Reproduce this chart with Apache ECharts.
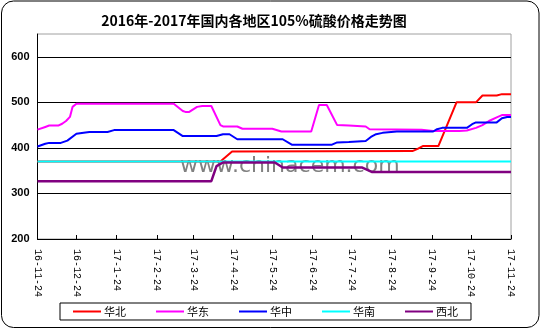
<!DOCTYPE html>
<html>
<head>
<meta charset="utf-8">
<script src="https://cdn.jsdelivr.net/npm/echarts@6/dist/echarts.min.js"></script>
<style>
html,body{margin:0;padding:0;background:#fff;}
#c{width:541px;height:329px;}
</style>
</head>
<body>
<div id="c"></div>
<script>
// Daily category axis from 2016-11-24 to 2017-11-24
const startDate = '2016-11-24';
const endDate = '2017-11-24';
const categories = [];
(function () {
  let t = Date.parse(startDate + 'T00:00:00Z');
  const e = Date.parse(endDate + 'T00:00:00Z');
  while (t <= e) {
    categories.push(new Date(t).toISOString().slice(0, 10));
    t += 86400000;
  }
})();

const seriesNames = ['华北', '华东', '华中', '华南', '西北'];

const huabei = [['2016-11-24',370],['2017-04-14',370],['2017-04-23',392],['2017-09-09',393],['2017-09-13',398],['2017-09-17',404],['2017-09-29',404],['2017-10-13',500],['2017-10-28',500],['2017-11-02',515],['2017-11-13',515],['2017-11-17',518],['2017-11-24',518]];

const huadong = [['2016-11-24',440],['2016-11-30',446],['2016-12-03',449],['2016-12-10',449],['2016-12-13',453],['2016-12-16',459],['2016-12-19',468],['2016-12-21',490],['2016-12-24',497],['2017-03-09',497],['2017-03-16',481],['2017-03-18',479],['2017-03-21',479],['2017-03-27',490],['2017-03-31',492],['2017-04-07',492],['2017-04-14',450],['2017-04-16',447],['2017-04-27',447],['2017-05-01',442],['2017-05-24',442],['2017-05-31',436],['2017-06-23',436],['2017-06-29',494],['2017-07-05',494],['2017-07-13',450],['2017-07-22',449],['2017-08-04',447],['2017-08-07',441],['2017-09-16',440],['2017-09-25',437],['2017-10-15',437],['2017-10-21',438],['2017-10-28',444],['2017-11-02',450],['2017-11-07',459],['2017-11-13',467],['2017-11-17',472],['2017-11-24',472]];

const huazhong = [['2016-11-24',403],['2016-11-30',409],['2016-12-03',411],['2016-12-12',411],['2016-12-17',416],['2016-12-24',431],['2016-12-31',434],['2017-01-03',435],['2017-01-17',435],['2017-01-22',439],['2017-03-09',439],['2017-03-16',426],['2017-04-11',426],['2017-04-16',430],['2017-04-21',430],['2017-04-27',419],['2017-06-01',419],['2017-06-08',407],['2017-07-09',407],['2017-07-13',412],['2017-07-22',413],['2017-08-04',415],['2017-08-08',424],['2017-08-12',430],['2017-08-17',433],['2017-08-28',436],['2017-09-25',436],['2017-09-28',441],['2017-10-02',444],['2017-10-21',444],['2017-10-25',452],['2017-10-28',456],['2017-11-13',456],['2017-11-17',465],['2017-11-21',468],['2017-11-24',468]];

const huanan = [['2016-11-24',370],['2017-11-24',370]];

const xibei = [['2016-11-24',327],['2017-04-07',327],['2017-04-11',360],['2017-04-16',368],['2017-05-26',368],['2017-06-01',357],['2017-08-01',357],['2017-08-09',347],['2017-11-24',347]];

const seriesData = [huabei, huadong, huazhong, huanan, xibei];
const colors = ['#ff0000', '#ff00ff', '#0000ff', '#00ffff', '#800080'];
const widths = [2, 2, 2, 2, 2.5];

const yMin = 200, yMax = 650, yInterval = 100;

const isTickDay = (idx, val) => val.slice(8) === '24';
const fmtDate = (v) => v.slice(2, 4) + '-' + (+v.slice(5, 7)) + '-' + v.slice(8);

const chart = echarts.init(document.getElementById('c'), null, {renderer: 'canvas'});
chart.setOption({
  animation: false,
  backgroundColor: '#fff',
  title: {
    text: '2016年-2017年国内各地区105%硫酸价格走势图',
    left: 254, top: 14, textAlign: 'center', padding: 0,
    textStyle: {fontFamily: '"Noto Sans CJK SC"', fontWeight: 'bold', fontSize: 14, color: '#000'}
  },
  graphic: [
    {type: 'rect', z: 100, silent: true,
     shape: {x: 1.5, y: 1, width: 537.5, height: 326.5, r: 12},
     style: {fill: null, stroke: '#000', lineWidth: 1}},
    {type: 'text', z: 0, silent: true, x: 180, y: 166,
     style: {text: 'www.chinacem.com', textVerticalAlign: 'middle', textAlign: 'left',
             font: '22px "DejaVu Sans"', fill: 'rgba(115,115,115,0.9)'}}
  ],
  legend: {
    data: seriesNames,
    left: 60, top: 303,
    padding: [3, 13, 3, 13],
    itemGap: 30, itemWidth: 28, itemHeight: 2, icon: 'rect',
    borderColor: '#000', borderWidth: 1,
    textStyle: {fontFamily: '"Noto Sans CJK SC"', fontSize: 11, color: '#000', padding: [0, 0, 0, -2]}
  },
  grid: {
    left: 37.5, right: 30, top: 34, bottom: 90,
    show: true, borderColor: '#a0a0a0', borderWidth: 1
  },
  xAxis: {
    type: 'category', data: categories, boundaryGap: false,
    axisLine: {lineStyle: {color: '#000', width: 1}},
    axisTick: {inside: true, length: 4, interval: isTickDay, lineStyle: {color: '#000'}},
    axisLabel: {interval: isTickDay, rotate: -90, margin: 10, formatter: fmtDate,
                fontFamily: '"Liberation Mono"', fontSize: 10, color: '#000'},
    splitLine: {show: false}
  },
  yAxis: {
    type: 'value', min: yMin, max: yMax, interval: yInterval,
    axisLine: {show: true, lineStyle: {color: '#000', width: 1}},
    axisTick: {show: false},
    axisLabel: {showMaxLabel: false, margin: 8, fontFamily: '"Liberation Sans"', fontWeight: 'bold', fontSize: 11, color: '#000'},
    splitLine: {show: true, showMaxLine: false, lineStyle: {color: '#000', width: 1}}
  },
  series: seriesNames.map((n, i) => ({
    name: n, type: 'line', data: seriesData[i], symbol: 'none',
    itemStyle: {color: colors[i]},
    lineStyle: {color: colors[i], width: widths[i]}
  }))
});
</script>
</body>
</html>
